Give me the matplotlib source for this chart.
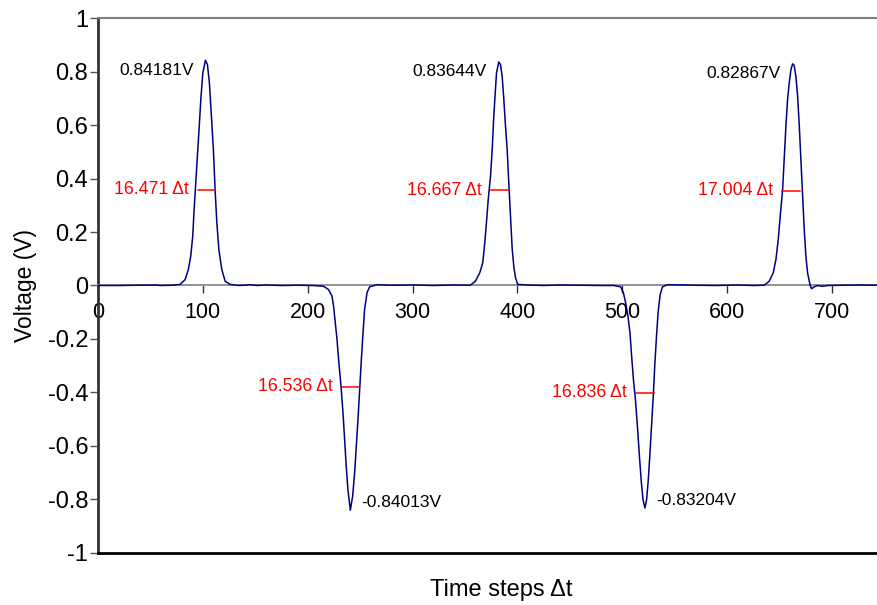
import matplotlib
matplotlib.use("Agg")
import matplotlib.pyplot as plt

# sampled trace: time step vs voltage
t_steps = [0, 20, 40, 55, 60, 70, 78.3, 83.1, 86.2, 88.5, 90.4, 91.7, 92.9, 94.3, 96.2, 98.1,
           100.0, 102.5, 104.4, 106.3, 108.2, 110.1, 111.7, 113.4, 115.3, 118.1, 121.3, 126.1,
           135, 145, 152, 160, 175, 190, 205, 215.2, 219.9, 223.2, 224.7, 226.3, 228.0, 229.5,
           231.8, 233.7, 235.2, 236.8, 238.4, 240.7, 242.9, 244.8, 246.4, 248.0, 249.6, 251.2,
           252.8, 254.3, 256.6, 259.1, 266.2, 280, 300, 320, 340, 355, 360.0, 364.1, 367.0,
           368.9, 370.5, 372.2, 374.4, 376.0, 377.5, 378.9, 380.1, 382.3, 383.9, 385.5, 387.1,
           388.7, 390.3, 391.8, 393.5, 395.1, 396.6, 398.2, 400.4, 410, 425, 440, 460, 480,
           492.1, 498.5, 501.1, 503.3, 505.5, 507.4, 509.0, 510.7, 512.6, 514.5, 516.4, 518.3,
           519.8, 521.7, 523.3, 524.9, 526.5, 528.1, 529.8, 531.0, 532.7, 534.2, 536.2, 538.4,
           543.1, 555, 570, 590, 610, 625, 635.4, 640.2, 644.0, 646.6, 648.8, 650.7, 653.0,
           654.5, 656.1, 657.7, 659.3, 660.9, 662.5, 664.0, 665.6, 667.3, 668.9, 670.4, 672.0,
           673.6, 675.2, 676.8, 679.0, 680.6, 683.1, 686.3, 691.1, 695.9, 710, 725, 745]
volts = [0.0, 0.0, 0.001, 0.002, 0.0, 0.001, 0.004, 0.022, 0.06, 0.11, 0.185, 0.284, 0.359,
         0.446, 0.570, 0.695, 0.795, 0.842, 0.826, 0.757, 0.633, 0.508, 0.359, 0.234, 0.135,
         0.060, 0.016, 0.004, 0.0, 0.003, 0.0, 0.002, 0.0, 0.001, 0.0, -0.003, -0.015, -0.040,
         -0.077, -0.139, -0.202, -0.277, -0.376, -0.476, -0.576, -0.676, -0.763, -0.840,
         -0.788, -0.700, -0.600, -0.501, -0.389, -0.277, -0.177, -0.090, -0.027, -0.005,
         0.003, 0.001, 0.002, 0.0, 0.002, 0.001, 0.016, 0.047, 0.085, 0.159, 0.234, 0.321,
         0.409, 0.508, 0.633, 0.720, 0.795, 0.836, 0.826, 0.783, 0.695, 0.595, 0.508, 0.384,
         0.259, 0.135, 0.072, 0.029, 0.004, 0.002, 0.0, 0.002, 0.001, 0.0, 0.0, -0.005,
         -0.027, -0.065, -0.115, -0.177, -0.265, -0.352, -0.426, -0.526, -0.638, -0.738,
         -0.800, -0.832, -0.800, -0.725, -0.625, -0.513, -0.401, -0.302, -0.190, -0.102,
         -0.034, -0.005, 0.003, 0.002, 0.001, 0.0, 0.002, 0.0, 0.001, 0.016, 0.047, 0.097,
         0.172, 0.259, 0.359, 0.471, 0.595, 0.695, 0.757, 0.807, 0.829, 0.823, 0.783, 0.708,
         0.595, 0.471, 0.334, 0.209, 0.109, 0.047, 0.004, -0.012, -0.005, 0.0, -0.003, 0.0,
         0.001, 0.002, 0.001]

# peak values
peak_t = [102.5, 240.7, 382.3, 521.7, 662.5]
peak_v = [0.84181, -0.84013, 0.83644, -0.83204, 0.82867]
peak_text = ["0.84181V", "-0.84013V", "0.83644V", "-0.83204V", "0.82867V"]

# pulse widths (in time steps) and where they are marked
fwhm_width = [16.471, 16.536, 16.667, 16.836, 17.004]
fwhm_center = [103.2, 241.0, 383.4, 521.5, 661.2]
fwhm_level = [0.358, -0.379, 0.356, -0.401, 0.355]

plt.rcParams['font.family'] = ['Liberation Sans', 'DejaVu Sans']

fig = plt.figure(figsize=(8.77, 6.05), dpi=100)
ax = fig.add_axes([0.1117, 0.086, 0.8883, 0.8842])

ax.plot(t_steps, volts, color='#000080', lw=1.1, zorder=3)

for c, lev, w in zip(fwhm_center, fwhm_level, fwhm_width):
    ax.plot([c - w / 2, c + w / 2], [lev, lev], color='red', lw=1.1, zorder=4)
    ax.annotate("%.3f \u0394t" % w, (c - w / 2, lev), xytext=(-9, 0),
                textcoords='offset pixels', ha='right', va='center',
                color='red', fontsize=12.8)

for t, v, s in zip(peak_t, peak_v, peak_text):
    if v > 0:
        ax.annotate(s, (t, v), xytext=(-12, -10), textcoords='offset pixels',
                    ha='right', va='center', fontsize=12.5)
    else:
        ax.annotate(s, (t, v), xytext=(11, 8), textcoords='offset pixels',
                    ha='left', va='center', fontsize=12.5)

ax.set_xlim(0, 743)
ax.set_ylim(-1, 1)
ax.set_xticks(range(0, 800, 100))
ax.set_yticks([-1, -0.8, -0.6, -0.4, -0.2, 0, 0.2, 0.4, 0.6, 0.8, 1])
ax.set_yticklabels(['-1', '-0.8', '-0.6', '-0.4', '-0.2', '0', '0.2', '0.4', '0.6', '0.8', '1'])

# x axis crosses at zero, frame line at the bottom
ax.spines['bottom'].set_position(('data', 0))
ax.spines['bottom'].set_color('#808080')
ax.spines['bottom'].set_linewidth(1.2)
ax.axhline(-1, color='black', lw=2, clip_on=False, zorder=5)
ax.spines['left'].set_color('#333333')
ax.spines['left'].set_linewidth(2)
ax.spines['top'].set_color('#808080')
ax.spines['top'].set_linewidth(1.5)
ax.spines['right'].set_visible(False)

ax.tick_params(axis='x', direction='out', length=6, width=1, color='#333333',
               labelsize=15.5, pad=6)
ax.tick_params(axis='y', direction='out', length=6, width=1, color='#555555',
               labelsize=17, pad=1)

ax.set_ylabel("Voltage (V)", fontsize=16.5, labelpad=8)
fig.text(0.571, 0.025, "Time steps \u0394t", fontsize=17, ha='center', va='center')

fig.savefig("out.png", dpi=100)
